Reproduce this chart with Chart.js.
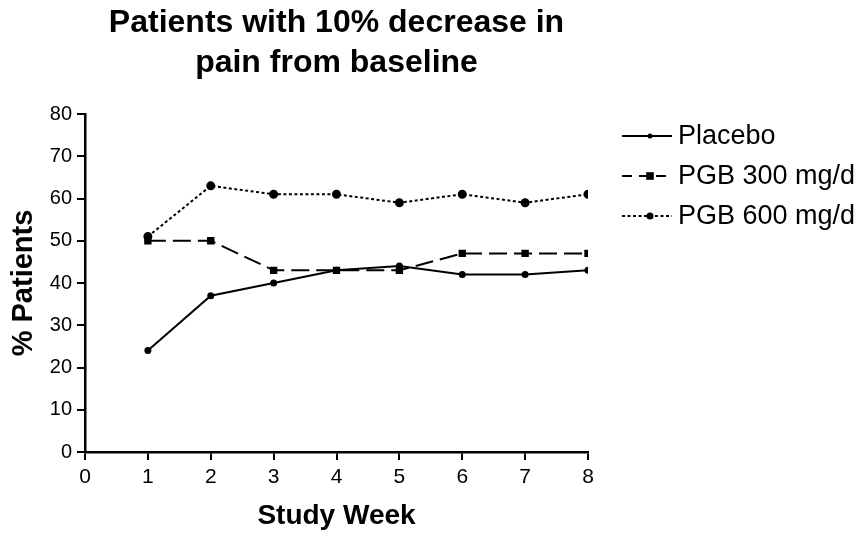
<!DOCTYPE html>
<html>
<head>
<meta charset="utf-8">
<script src="https://cdn.jsdelivr.net/npm/chart.js@4"></script>
<style>
  html, body { margin: 0; padding: 0; background: #fff; }
  #wrap { width: 861px; height: 536px; }
</style>
</head>
<body>
<div id="wrap"><canvas id="chart" width="861" height="536"></canvas></div>
<script>
const titleLines = ['Patients with 10% decrease in', 'pain from baseline'];
const weeks = [1, 2, 3, 4, 5, 6, 7, 8];
const placebo = [24, 37, 40, 43, 44, 42, 42, 43];
const pgb300 = [50, 50, 43, 43, 43, 47, 47, 47];
const pgb600 = [51, 63, 61, 61, 59, 61, 59, 61];
const seriesNames = ['Placebo', 'PGB 300 mg/d', 'PGB 600 mg/d'];

const FONT = "'Liberation Sans', Arial, sans-serif";

const toPoints = vals => vals.map((v, i) => ({ x: weeks[i], y: v }));

// title + legend drawn by hand so they sit where the original has them
const extras = {
  id: 'extras',
  afterDraw(chart) {
    const ctx = chart.ctx;
    const area = chart.chartArea;
    const cx = (area.left + area.right) / 2;
    ctx.save();
    ctx.fillStyle = '#000';
    ctx.font = 'bold 32px ' + FONT;
    ctx.textAlign = 'center';
    ctx.textBaseline = 'alphabetic';
    ctx.fillText(titleLines[0], cx, 32);
    ctx.fillText(titleLines[1], cx, 72);

    chart.data.datasets.forEach((ds, i) => {
      const y = 136 + i * 40;
      ctx.strokeStyle = '#000';
      ctx.lineWidth = ds.borderWidth;
      ctx.setLineDash(ds.legendDash || ds.borderDash || []);
      ctx.beginPath();
      ctx.moveTo(622, y);
      ctx.lineTo(672, y);
      ctx.stroke();
      ctx.setLineDash([]);
      ctx.fillStyle = '#000';
      const r = ds.pointRadius;
      if (ds.pointStyle === 'rect') {
        ctx.fillRect(650 - r, y - r, r * 2, r * 2);
      } else {
        ctx.beginPath();
        ctx.arc(650, y, r, 0, Math.PI * 2);
        ctx.fill();
      }
      ctx.font = '27px ' + FONT;
      ctx.textAlign = 'left';
      ctx.textBaseline = 'middle';
      ctx.fillText(ds.label, 678, y + 1);
    });
    ctx.restore();
  }
};

new Chart(document.getElementById('chart'), {
  type: 'line',
  data: {
    datasets: [
      {
        label: seriesNames[0],
        data: toPoints(placebo),
        borderColor: '#000',
        backgroundColor: '#000',
        borderWidth: 2,
        pointStyle: 'circle',
        pointRadius: 2.5,
        tension: 0
      },
      {
        label: seriesNames[1],
        data: toPoints(pgb300),
        borderColor: '#000',
        backgroundColor: '#000',
        borderWidth: 2,
        borderDash: [18, 7],
        legendDash: [10, 7],
        pointStyle: 'rect',
        pointRadius: 3.8,
        tension: 0
      },
      {
        label: seriesNames[2],
        data: toPoints(pgb600),
        borderColor: '#000',
        backgroundColor: '#000',
        borderWidth: 2,
        borderDash: [3, 2.5],
        pointStyle: 'circle',
        pointRadius: 3.5,
        tension: 0
      }
    ]
  },
  options: {
    responsive: false,
    animation: false,
    layout: { padding: { top: 114, right: 273, bottom: 0, left: 0 } },
    plugins: {
      legend: { display: false },
      title: { display: false },
      tooltip: { enabled: false }
    },
    scales: {
      x: {
        type: 'linear',
        min: 0,
        max: 8,
        afterFit: s => { s.height = 84; },
        ticks: { stepSize: 1, color: '#000', font: { family: FONT, size: 21 }, padding: 5 },
        grid: { drawOnChartArea: false, drawTicks: true, tickLength: 8, color: '#000', lineWidth: 2 },
        border: { color: '#000', width: 2.5 },
        title: { display: true, text: 'Study Week', color: '#000', font: { family: FONT, size: 28, weight: 'bold' }, padding: { top: 0, bottom: 3 } }
      },
      y: {
        min: 0,
        max: 80,
        afterFit: s => { s.width = 85; },
        ticks: { stepSize: 10, color: '#000', font: { family: FONT, size: 20 }, padding: 5 },
        grid: { drawOnChartArea: false, drawTicks: true, tickLength: 8, color: '#000', lineWidth: 2 },
        border: { color: '#000', width: 2.5 },
        title: { display: true, text: '% Patients', color: '#000', font: { family: FONT, size: 29, weight: 'bold' }, padding: { top: 7, bottom: 0 } }
      }
    }
  },
  plugins: [extras]
});
</script>
</body>
</html>
